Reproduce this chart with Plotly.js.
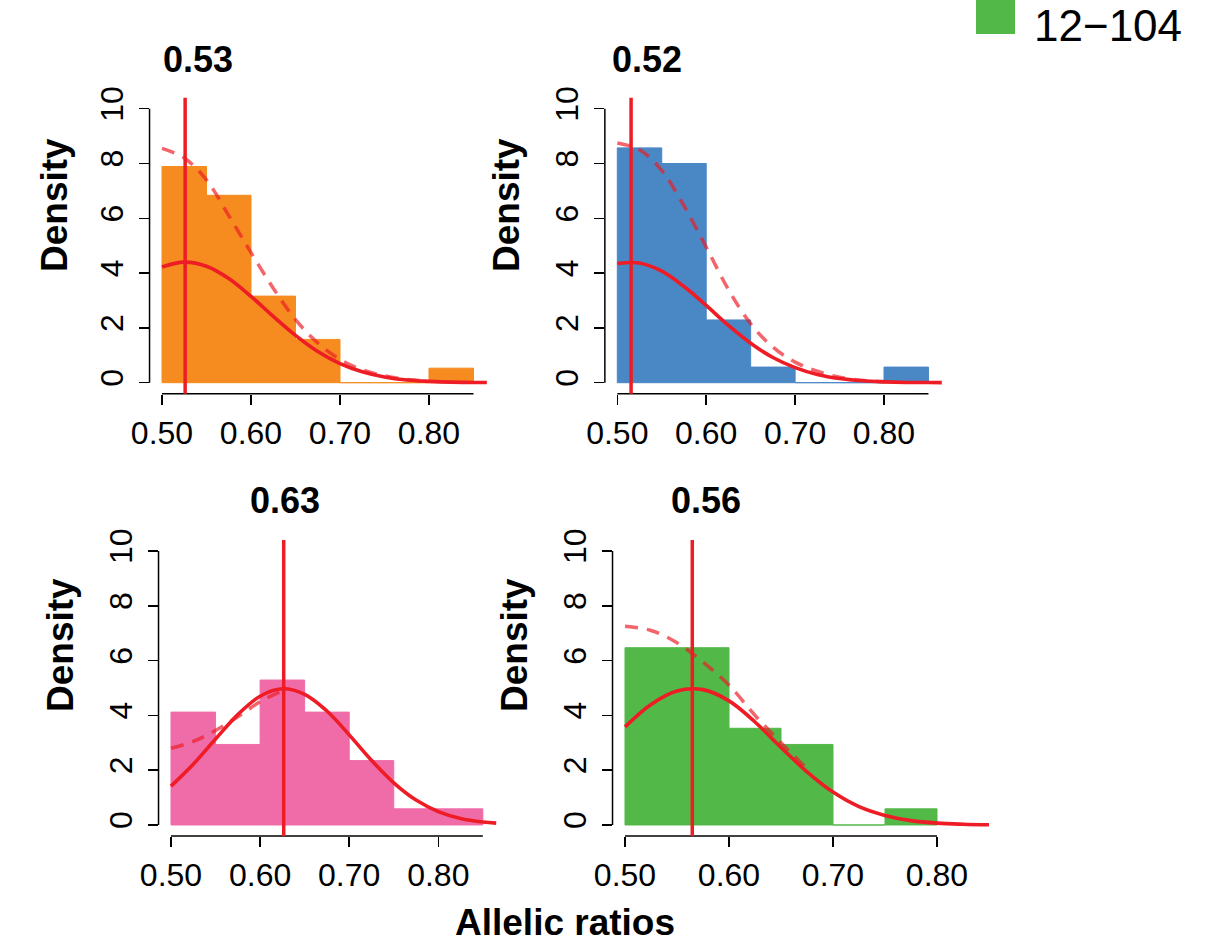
<!DOCTYPE html>
<html>
<head>
<meta charset="utf-8">
<script src="https://cdn.plot.ly/plotly-3.0.1.min.js"></script>
<style>html,body{margin:0;padding:0;background:#fff;}#chart{width:1211px;height:943px;}</style>
</head>
<body>
<div id="chart"></div>
<script>
// ---------------- data ----------------
const binWidth = 0.05;
const binStartsA = [0.50, 0.55, 0.60, 0.65, 0.70, 0.75, 0.80];
const binStartsB = [0.50, 0.55, 0.60, 0.65, 0.70, 0.75];

const density1 = [7.89, 6.84, 3.16, 1.58, 0, 0, 0.53];
const density2 = [8.57, 8.00, 2.29, 0.57, 0, 0, 0.57];
const density3 = [4.12, 2.94, 5.29, 4.12, 2.35, 0.59, 0.59];
const density4 = [6.47, 6.47, 3.53, 2.94, 0, 0.59];

const curveX  = [0.500, 0.525, 0.550, 0.575, 0.600, 0.625, 0.650, 0.675, 0.700, 0.725, 0.750, 0.775, 0.800, 0.825, 0.850, 0.865];
const curveX4 = [0.500, 0.525, 0.550, 0.575, 0.600, 0.625, 0.650, 0.675, 0.700, 0.725, 0.750, 0.775, 0.800, 0.825, 0.850];

const fit1 = [4.22, 4.40, 4.25, 3.80, 3.15, 2.42, 1.73, 1.14, 0.70, 0.40, 0.21, 0.10, 0.05, 0.02, 0.01, 0.005];
const fit2 = [4.35, 4.37, 4.07, 3.51, 2.82, 2.09, 1.44, 0.92, 0.55, 0.30, 0.15, 0.07, 0.03, 0.01, 0.005, 0.002];
const fit3 = [1.42, 2.22, 3.14, 4.03, 4.70, 4.97, 4.77, 4.16, 3.29, 2.36, 1.54, 0.91, 0.49, 0.24, 0.11, 0.07];
const fit4 = [3.58, 4.40, 4.89, 4.94, 4.53, 3.76, 2.83, 1.94, 1.20, 0.67, 0.35, 0.16, 0.07, 0.03, 0.01];

const kdeX1 = [0.500, 0.525, 0.550, 0.575, 0.600, 0.625, 0.650, 0.675, 0.700, 0.725, 0.750, 0.775, 0.800];
const kde1  = [8.55, 8.20, 7.40, 6.10, 4.75, 3.45, 2.30, 1.45, 0.85, 0.47, 0.25, 0.12, 0.06];
const kdeX2 = [0.500, 0.525, 0.550, 0.575, 0.600, 0.625, 0.650, 0.675, 0.700, 0.725, 0.750, 0.775, 0.800];
const kde2  = [8.75, 8.50, 7.75, 6.45, 4.95, 3.40, 2.15, 1.30, 0.75, 0.42, 0.20, 0.09, 0.04];
const kdeX3 = [0.500, 0.525, 0.550, 0.575, 0.600, 0.625];
const kde3  = [2.80, 3.05, 3.45, 3.95, 4.50, 4.90];
const kdeX4 = [0.500, 0.525, 0.550, 0.575, 0.600, 0.625, 0.650, 0.675];
const kde4  = [7.25, 7.10, 6.65, 5.95, 5.10, 4.00, 3.00, 2.05];

const medians = [0.526, 0.5155, 0.6265, 0.5647];
const panelTitles = ['0.53', '0.52', '0.63', '0.56'];
const barColors = ['#F68B1F', '#4A87C5', '#F06CA8', '#52B848'];
const xTickVals = [0.5, 0.6, 0.7, 0.8];
const xTickText = ['0.50', '0.60', '0.70', '0.80'];
const yTickVals = [0, 2, 4, 6, 8, 10];
const yTickText = ['0', '2', '4', '6', '8', '10'];
const xAxisLineEnd = [0.85, 0.85, 0.85, 0.80];
const legendLabel = '12\u2212104';
const yLabel = 'Density';
const xLabel = 'Allelic ratios';

// ---------------- layout geometry (pixels) ----------------
const W = 1211, H = 943;
const geo = [
  {x0px: 162.0, sx: 890, xlo: 0.486, xhi: 0.872, y0px: 382.7, sy: 27.4},
  {x0px: 617.3, sx: 889, xlo: 0.486, xhi: 0.872, y0px: 382.7, sy: 27.4},
  {x0px: 171.0, sx: 891, xlo: 0.486, xhi: 0.872, y0px: 825.0, sy: 27.4},
  {x0px: 625.0, sx: 1040, xlo: 0.488, xhi: 0.860, y0px: 825.0, sy: 27.4}
];
const ylo = -0.4, yhi = 10.4;
const titlePos = [[198, 60], [647, 60], [285, 500], [706, 500]];
const yLabPos = [[55, 205], [507, 205], [60, 645], [514, 645]];

const FONT = 'Liberation Sans, Arial, Helvetica, sans-serif';
const RED = '#EE1C25';

const densities = [density1, density2, density3, density4];
const starts = [binStartsA, binStartsA, binStartsA, binStartsB];
const fits = [fit1, fit2, fit3, fit4];
const fitXs = [curveX, curveX, curveX, curveX4];
const kdes = [kde1, kde2, kde3, kde4];
const kdeXs = [kdeX1, kdeX2, kdeX3, kdeX4];

const traces = [];
const layout = {
  width: W, height: H,
  margin: {l: 0, r: 0, t: 0, b: 0},
  paper_bgcolor: '#ffffff', plot_bgcolor: 'rgba(0,0,0,0)',
  showlegend: false,
  font: {family: FONT, color: '#000'},
  shapes: [], annotations: []
};

for (let i = 0; i < 4; i++) {
  const n = i + 1;
  const xa = 'x' + (n === 1 ? '' : n), ya = 'y' + (n === 1 ? '' : n);
  const xKey = 'xaxis' + (n === 1 ? '' : n), yKey = 'yaxis' + (n === 1 ? '' : n);
  const g = geo[i];
  const leftPx = g.x0px + (g.xlo - 0.5) * g.sx;
  const rightPx = g.x0px + (g.xhi - 0.5) * g.sx;
  const topPx = g.y0px - yhi * g.sy;
  const botPx = g.y0px - ylo * g.sy;

  traces.push({
    type: 'bar', x: starts[i], y: densities[i], width: binWidth, offset: 0,
    xaxis: xa, yaxis: ya,
    marker: {color: barColors[i], opacity: 1, line: {width: 1, color: barColors[i]}},
    hoverinfo: 'skip'
  });
  traces.push({
    type: 'scatter', mode: 'lines', x: kdeXs[i], y: kdes[i], xaxis: xa, yaxis: ya,
    line: {color: 'rgba(238,28,37,0.68)', width: 3.5, dash: '13px,9px', shape: 'spline'},
    hoverinfo: 'skip'
  });
  traces.push({
    type: 'scatter', mode: 'lines', x: fitXs[i], y: fits[i], xaxis: xa, yaxis: ya,
    line: {color: RED, width: 3.6, shape: 'spline'}, hoverinfo: 'skip'
  });

  layout[xKey] = {
    domain: [leftPx / W, rightPx / W], range: [g.xlo, g.xhi], anchor: ya,
    showgrid: false, zeroline: false, showline: false, fixedrange: true,
    tickmode: 'array', tickvals: xTickVals, ticktext: xTickText,
    ticks: 'outside', ticklen: 10, tickwidth: 1.5, tickcolor: '#000',
    ticklabelstandoff: 1,
    tickfont: {family: FONT, size: 32, color: '#000'}
  };
  layout[yKey] = {
    domain: [1 - botPx / H, 1 - topPx / H], range: [ylo, yhi], anchor: xa,
    showgrid: false, zeroline: false, showline: false, fixedrange: true,
    tickmode: 'array', tickvals: yTickVals, ticktext: yTickText, tickangle: -90,
    ticks: 'outside', ticklen: 10, tickwidth: 1.5, tickcolor: '#000',
    ticklabelstandoff: 3,
    tickfont: {family: FONT, size: 32, color: '#000'}
  };

  // axis lines (R style, from first to last tick)
  layout.shapes.push({type: 'line', xref: xa, yref: ya + ' domain', x0: 0.5, x1: xAxisLineEnd[i], y0: 0, y1: 0,
    line: {color: '#000', width: 1.5}});
  layout.shapes.push({type: 'line', xref: xa + ' domain', yref: ya, x0: 0, x1: 0, y0: 0, y1: 10,
    line: {color: '#000', width: 1.5}});
  // median line
  layout.shapes.push({type: 'line', xref: xa, yref: ya + ' domain', x0: medians[i], x1: medians[i], y0: 0, y1: 1,
    line: {color: RED, width: 3.5}});

  layout.annotations.push({text: '<b>' + panelTitles[i] + '</b>', xref: 'paper', yref: 'paper',
    x: titlePos[i][0] / W, y: 1 - titlePos[i][1] / H, xanchor: 'center', yanchor: 'middle',
    showarrow: false, font: {family: FONT, size: 36, color: '#000'}});
  layout.annotations.push({text: '<b>' + yLabel + '</b>', xref: 'paper', yref: 'paper',
    x: yLabPos[i][0] / W, y: 1 - yLabPos[i][1] / H, xanchor: 'center', yanchor: 'middle', textangle: -90,
    showarrow: false, font: {family: FONT, size: 37, color: '#000'}});
}

layout.annotations.push({text: '<b>' + xLabel + '</b>', xref: 'paper', yref: 'paper',
  x: 565 / W, y: 1 - 922 / H, xanchor: 'center', yanchor: 'middle',
  showarrow: false, font: {family: FONT, size: 37, color: '#000'}});

// legend fragment (top right corner), kept fully inside the figure
layout.shapes.push({type: 'rect', xref: 'paper', yref: 'paper', x0: 976 / W, x1: 1015 / W, y0: 1 - 34 / H, y1: 1.05,
  fillcolor: barColors[3], line: {width: 0}});
layout.annotations.push({text: legendLabel, xref: 'paper', yref: 'paper',
  x: 1033 / W, y: 1, xanchor: 'left', yanchor: 'top', borderpad: 0,
  showarrow: false, font: {family: FONT, size: 44, color: '#000'}});

Plotly.newPlot('chart', traces, layout, {staticPlot: true, displayModeBar: false});
</script>
</body>
</html>
